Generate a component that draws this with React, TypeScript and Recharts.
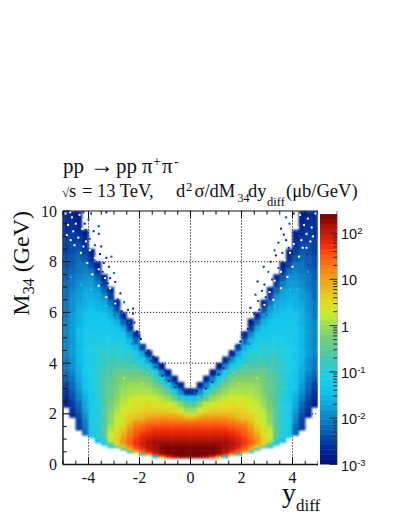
import React from "react";
import { ScatterChart, Scatter, XAxis, YAxis, ReferenceLine } from "recharts";

const _ = null;

// rapidity bin centres
const yDiffBins = [-4.875,-4.625,-4.375,-4.125,-3.875,-3.625,-3.375,-3.125,-2.875,-2.625,-2.375,-2.125,-1.875,-1.625,-1.375,-1.125,-0.875,-0.625,-0.375,-0.125,0.125,0.375,0.625,0.875,1.125,1.375,1.625,1.875,2.125,2.375,2.625,2.875,3.125,3.375,3.625,3.875,4.125,4.375,4.625,4.875];
// mass bin edges (GeV)
const massEdges = [0.25,0.35,0.45,0.55,0.65,0.75,0.85,0.95,1.05,1.15,1.25,1.35,1.45,1.55,1.65,1.75,1.85,1.95,2.05,2.25,2.5,2.75,3,3.25,3.5,3.75,4,4.25,4.5,4.75,5,5.25,5.5,5.75,6,6.25,6.5,6.75,7,7.25,7.5,7.75,8,8.25,8.5,8.75,9,9.25,9.5,9.75,10];
// log10(cross section) x 10, one row per mass bin, bottom to top
const logSigmaRows = [
[_,_,_,_,_,_,_,_,_,_,_,_,_,_,-12,8,17,21,23,23,23,23,21,17,8,-11,_,_,_,_,_,_,_,_,_,_,_,_,_,_],
[_,_,_,_,_,_,_,_,_,_,_,_,-10,9,17,21,23,24,24,24,24,24,24,23,21,17,9,-9,_,_,_,_,_,_,_,_,_,_,_,_],
[_,_,_,_,_,_,_,_,_,_,-8,8,14,18,21,23,24,24,24,24,24,24,24,24,23,21,18,14,8,-8,_,_,_,_,_,_,_,_,_,_],
[_,_,_,_,_,_,_,_,_,-6,9,14,17,20,22,23,24,24,24,24,24,24,24,24,23,22,20,17,14,9,-6,_,_,_,_,_,_,_,_,_],
[_,_,_,_,_,_,_,-12,-5,6,11,16,19,21,22,23,24,24,24,24,24,24,24,24,23,22,21,19,16,11,6,-5,-12,_,_,_,_,_,_,_],
[_,_,_,_,_,_,-14,-6,5,10,14,17,20,21,22,23,23,23,23,23,23,23,23,23,23,22,21,20,17,14,10,5,-6,-14,_,_,_,_,_,_],
[_,_,_,_,_,-15,-9,1,6,11,15,17,19,21,22,22,22,22,22,22,22,22,22,22,22,22,21,19,17,15,11,6,1,-9,-15,_,_,_,_,_],
[_,_,_,_,_,-13,-8,2,6,11,14,17,19,20,21,21,21,21,21,21,21,21,21,21,21,21,20,19,17,14,11,6,2,-8,-13,_,_,_,_,_],
[_,_,_,_,-14,-11,-6,3,5,10,13,16,18,19,20,20,20,20,20,20,20,20,20,20,20,20,19,18,16,13,10,5,3,-6,-11,-14,_,_,_,_],
[_,_,_,-23,-12,-10,-5,3,5,9,13,15,17,18,19,19,19,19,19,19,19,19,19,19,19,19,18,17,15,13,9,5,3,-5,-10,-12,-23,_,_,_],
[_,_,_,-22,-12,-10,-5,2,5,8,12,15,16,17,18,18,18,18,18,18,18,18,18,18,18,18,17,16,15,12,8,5,2,-5,-10,-12,-22,_,_,_],
[_,_,-26,-22,-12,-10,-5,1,4,7,11,14,15,16,17,17,17,17,17,17,17,17,17,17,17,17,16,15,14,11,7,4,2,-5,-10,-12,-22,-26,_,_],
[_,_,-25,-21,-12,-10,-5,1,4,6,10,13,14,15,16,16,16,16,16,16,16,16,16,16,16,16,15,14,13,10,6,4,1,-5,-10,-12,-21,-25,_,_],
[_,_,-25,-21,-12,-10,-6,0,3,5,9,12,13,14,14,15,15,15,15,15,15,15,15,15,15,14,14,13,12,9,5,3,0,-6,-10,-12,-21,-25,_,_],
[_,_,-25,-20,-12,-9,-6,-1,2,4,7,10,11,12,13,13,13,13,13,13,13,13,13,13,13,13,12,11,10,7,4,2,-1,-6,-9,-12,-20,-25,_,_],
[_,_,-25,-20,-12,-10,-6,-1,2,4,6,8,9,11,12,12,12,12,11,10,10,11,12,12,12,12,11,9,8,6,4,2,-1,-6,-10,-12,-20,-25,_,_],
[_,-27,-24,-19,-12,-10,-6,-1,2,4,6,7,8,9,10,10,10,10,9,7,7,9,10,10,10,10,9,8,7,6,4,2,-1,-6,-10,-12,-19,-24,-27,_],
[_,-27,-24,-19,-12,-10,-6,-1,2,4,5,6,7,8,8,8,8,8,6,3,3,6,8,8,8,8,8,7,6,5,4,2,-1,-6,-10,-12,-19,-24,-27,_],
[_,-26,-23,-18,-12,-10,-6,-2,1,3,4,5,6,6,6,6,6,5,3,0,0,3,5,6,6,6,6,6,5,4,3,1,-2,-6,-10,-12,-18,-23,-26,_],
[-28,-25,-22,-17,-12,-10,-6,-3,0,2,3,4,4,5,4,4,3,2,-1,-5,-5,-1,2,3,4,4,5,4,4,3,2,0,-3,-6,-10,-12,-17,-22,-25,-28],
[-27,-24,-20,-16,-12,-10,-6,-4,-1,1,2,3,3,3,2,1,0,-4,-8,-14,-14,-8,-4,0,1,2,3,3,3,2,1,-1,-4,-6,-10,-12,-16,-20,-24,-27],
[-26,-23,-19,-15,-12,-9,-6,-4,-2,0,1,1,1,1,0,-2,-5,-11,-19,-27,-27,-19,-11,-5,-2,0,1,1,1,1,0,-2,-4,-6,-9,-12,-15,-19,-23,-26],
[-25,-22,-18,-14,-12,-9,-6,-4,-3,-1,0,0,0,-1,-3,-6,-11,-20,-27,_,_,-27,-20,-11,-6,-3,-1,0,0,0,-1,-3,-4,-6,-9,-12,-14,-18,-22,-25],
[-23,-21,-17,-14,-11,-9,-6,-5,-3,-2,-2,-2,-2,-3,-6,-11,-20,-27,_,_,_,_,-27,-20,-11,-6,-3,-2,-2,-2,-2,-3,-5,-6,-9,-11,-14,-17,-21,-23],
[-22,-20,-16,-13,-11,-9,-7,-6,-4,-4,-4,-4,-5,-7,-11,-19,-28,_,_,_,_,_,_,-28,-19,-11,-7,-5,-4,-4,-4,-4,-6,-7,-9,-11,-13,-16,-20,-22],
[-21,-19,-16,-13,-11,-9,-8,-7,-6,-6,-6,-7,-9,-12,-19,-28,_,_,_,_,_,_,_,_,-28,-19,-12,-9,-7,-6,-6,-6,-7,-8,-9,-11,-13,-16,-19,-21],
[-21,-19,-15,-13,-11,-10,-8,-8,-7,-8,-8,-10,-12,-18,-27,_,_,_,_,_,_,_,_,_,_,-27,-18,-12,-10,-8,-8,-7,-8,-8,-10,-11,-13,-15,-19,-21],
[-20,-18,-15,-13,-11,-10,-9,-9,-9,-9,-10,-12,-17,-26,_,_,_,_,_,_,_,_,_,_,_,_,-26,-17,-12,-10,-9,-9,-9,-9,-10,-11,-13,-15,-18,-20],
[-20,-18,-15,-13,-11,-10,-10,-10,-10,-11,-12,-16,-25,_,_,_,_,_,_,_,_,_,_,_,_,_,_,-25,-16,-12,-11,-10,-10,-10,-10,-11,-13,-15,-18,-20],
[-20,-18,-15,-13,-12,-11,-11,-11,-11,-12,-15,-22,_,_,_,_,_,_,_,_,_,_,_,_,_,_,_,_,-22,-15,-12,-11,-11,-11,-11,-12,-13,-15,-18,-20],
[-20,-18,-15,-13,-12,-12,-12,-12,-13,-14,-19,-27,_,_,_,_,_,_,_,_,_,_,_,_,_,_,_,_,-27,-19,-14,-13,-12,-12,-12,-12,-13,-15,-18,-20],
[-20,-18,-15,-13,-13,-12,-13,-13,-14,-17,-25,_,_,_,_,_,_,_,_,_,_,_,_,_,_,_,_,_,_,-25,-17,-14,-13,-13,-12,-13,-13,-15,-18,-20],
[-20,-18,-16,-14,-13,-13,-13,-14,-16,-22,-28,_,_,_,_,_,_,_,_,_,_,_,_,_,_,_,_,_,_,-28,-22,-16,-14,-13,-13,-13,-14,-16,-18,-20],
[-21,-18,-16,-14,-14,-14,-14,-16,-19,-27,_,_,_,_,_,_,_,_,_,_,_,_,_,_,_,_,_,_,_,_,-27,-19,-16,-14,-14,-14,-14,-16,-18,-21],
[-21,-19,-16,-15,-14,-15,-16,-18,-24,_,_,_,_,_,_,_,_,_,_,_,_,_,_,_,_,_,_,_,_,_,_,-24,-18,-16,-15,-14,-15,-16,-19,-21],
[-21,-19,-17,-16,-15,-16,-17,-21,-27,_,_,_,_,_,_,_,_,_,_,_,_,_,_,_,_,_,_,_,_,_,_,-27,-21,-17,-16,-15,-16,-17,-19,-21],
[-22,-19,-18,-16,-16,-17,-19,-25,_,_,_,_,_,_,_,_,_,_,_,_,_,_,_,_,_,_,_,_,_,_,_,_,-25,-19,-17,-16,-16,-18,-19,-22],
[-22,-20,-18,-17,-17,-18,-22,-27,_,_,_,_,_,_,_,_,_,_,_,_,_,_,_,_,_,_,_,_,_,_,_,_,-27,-22,-18,-17,-17,-18,-20,-22],
[-22,-21,-19,-18,-18,-20,-25,_,_,_,_,_,_,_,_,_,_,_,_,_,_,_,_,_,_,_,_,_,_,_,_,_,_,-25,-20,-18,-18,-19,-21,-22],
[-23,-21,-20,-19,-19,-23,-27,_,_,_,_,_,_,_,_,_,_,_,_,_,_,_,_,_,_,_,_,_,_,_,_,_,_,-27,-23,-19,-19,-20,-21,-23],
[-23,-22,-21,-20,-21,-26,_,_,_,_,_,_,_,_,_,_,_,_,_,_,_,_,_,_,_,_,_,_,_,_,_,_,_,_,-26,-21,-20,-21,-22,-23],
[-24,-23,-21,-21,-24,-28,_,_,_,_,_,_,_,_,_,_,_,_,_,_,_,_,_,_,_,_,_,_,_,_,_,_,_,_,-28,-24,-21,-21,-23,-24],
[-24,-23,-22,-23,-26,_,_,_,_,_,_,_,_,_,_,_,_,_,_,_,_,_,_,_,_,_,_,_,_,_,_,_,_,_,_,-26,-23,-22,-23,-24],
[-25,-24,-23,-25,-28,_,_,_,_,_,_,_,_,_,_,_,_,_,_,_,_,_,_,_,_,_,_,_,_,_,_,_,_,_,_,-28,-25,-23,-24,-25],
[-25,-24,-24,-26,_,_,_,_,_,_,_,_,_,_,_,_,_,_,_,_,_,_,_,_,_,_,_,_,_,_,_,_,_,_,_,_,-26,-24,-24,-25],
[-25,-25,-25,-27,_,_,_,_,_,_,_,_,_,_,_,_,_,_,_,_,_,_,_,_,_,_,_,_,_,_,_,_,_,_,_,_,-27,-25,-25,-25],
[-26,-25,-26,-28,_,_,_,_,_,_,_,_,_,_,_,_,_,_,_,_,_,_,_,_,_,_,_,_,_,_,_,_,_,_,_,_,-28,-26,-25,-26],
[-26,-26,-27,_,_,_,_,_,_,_,_,_,_,_,_,_,_,_,_,_,_,_,_,_,_,_,_,_,_,_,_,_,_,_,_,_,_,-27,-26,-26],
[-26,-27,-28,_,_,_,_,_,_,_,_,_,_,_,_,_,_,_,_,_,_,_,_,_,_,_,_,_,_,_,_,_,_,_,_,_,_,-28,-27,-26],
[-27,-27,-28,_,_,_,_,_,_,_,_,_,_,_,_,_,_,_,_,_,_,_,_,_,_,_,_,_,_,_,_,_,_,_,_,_,_,-28,-27,-27],
];

// isolated low-statistics bins beyond the dense edge: [y_diff, M34]
const fringeBins = [[-3.3,9.95],[-3.9,9.9],[-4,9.66],[-4.15,9.5],[-3.6,9.4],[-3.6,9.1],[-3.95,8.9],[-3.8,9.2],[-3.5,8.6],[-3.75,8.65],[-3.1,8.2],[-3.3,8.15],[-3.55,8.3],[-3.4,7.95],[-3.2,7.8],[-3.0,7.55],[-3.15,7.35],[-2.95,7.2],[-2.75,6.75],[-2.85,6.5],[-2.6,6.4],[-2.25,6.15],[-2.45,6.1],[-2.25,5.95],[-2.4,5.6],[-2.3,5.4],[-2.1,5.25],[-2.0,5.05],[-1.85,4.7],[-1.65,4.5],[-1.45,4.25],[-1.25,3.95],[-1.0,3.7],[-0.75,3.4],[-0.55,3.2],[-0.3,2.95],[3.66,9.07],[3.45,8.75],[3.88,9.5],[4.05,9.9],[3.75,9.75],[3.55,9.3],[3.3,8.45],[3.14,8.0],[3.35,8.25],[2.87,7.8],[3.05,7.6],[2.63,7.22],[2.9,7.1],[2.8,6.85],[2.55,6.7],[2.65,6.45],[2.35,6.18],[2.5,5.95],[2.35,5.65],[2.25,5.35],[2.05,5.1],[1.95,4.85],[1.8,4.65],[1.6,4.45],[1.4,4.2],[1.2,3.9],[0.95,3.6],[0.7,3.35],[0.5,3.1],[0.25,2.9],[-4.2,9.95],[-4.1,9.25],[4.3,9.6],[4.15,9.2],[3.85,8.55],[3.6,8.35],[-3.45,7.6],[-3.25,7.15],[-3.05,6.6],[-2.7,6.05],[-2.55,5.75],[-2.2,5.6],[-2.15,5.0],[-1.95,4.95],[-1.75,4.4],[-1.55,4.1],[-1.35,3.85],[-1.1,3.5],[-0.85,3.3],[-0.6,3.05],[-0.15,2.85],[0.15,2.85],[0.6,3.0],[0.85,3.25],[1.1,3.55],[1.3,3.8],[1.55,4.15],[1.7,4.35],[1.9,4.7],[2.15,5.15],[2.45,5.7],[2.7,6.1],[2.95,6.6],[3.2,7.3],[3.45,7.75],[3.75,8.85]];
const fringeLevels = [-28,-26,-24,-28,-25,-27,-22,-28,-27,-25,-23,-28,-27,-25,-26,-22,-28,-26];

// empty bins inside the sparse upper wings: [y_diff, M34]
const emptyBins = [[-4.9,9.9],[-4.65,9.75],[-4.8,9.45],[-4.5,9.5],[-4.35,9.85],[-4.6,9.2],[-4.25,9.3],[-4.85,9.05],[-4.4,8.95],[-4.1,8.8],[-4.55,8.65],[-3.95,8.45],[-4.3,8.35],[-3.75,8.15],[-4.05,7.95],[-3.6,7.7],[-3.85,7.5],[-3.35,7.35],[-3.6,7.05],[-3.15,6.95],[-3.3,6.6],[-2.95,6.35],[4.9,9.9],[4.6,9.7],[4.75,9.35],[4.45,9.45],[4.3,9.85],[4.55,9.1],[4.2,9.35],[4.8,9.0],[4.35,8.85],[4.05,8.7],[4.55,8.55],[3.9,8.35],[4.25,8.2],[3.7,8.05],[4.0,7.8],[3.55,7.6],[3.8,7.4],[3.3,7.25],[3.55,6.95],[3.1,6.8],[3.25,6.5],[2.9,6.3],[-4.72,9.95],[-4.2,9.65],[-4.7,8.85],[4.15,9.75],[4.7,8.8],[-4.2,8.6],[4.4,8.55]];

// single noisy bins on the slopes: [y_diff, M34, log10 x 10]
const grainBins = [[-2.2,3.9,-2],[-2.6,3.4,3],[-1.9,3.2,4],[-2.9,2.95,-4],[-2.4,4.3,-5],[-2.9,4.6,-6],[-3.2,3.9,-3],[-1.7,3.6,-1],[-2.0,4.2,-14],[-2.7,5.0,-8],[-3.2,5.4,-9],[-3.6,6.0,-11],[-3.0,5.9,-21],[-3.3,6.25,-11],[-3.9,6.9,-13],[-2.3,4.75,-20],[-1.5,3.35,-3],[-1.2,3.15,-2],[2.2,3.9,-2],[2.6,3.4,2],[1.9,3.2,4],[2.9,2.95,-4],[2.4,4.3,-5],[2.9,4.6,-7],[3.2,3.9,-3],[1.7,3.6,-1],[2.0,4.2,-14],[2.7,5.0,-8],[3.2,5.4,-9],[3.6,6.0,-11],[3.0,5.9,-21],[3.3,6.25,-11],[3.9,6.9,-13],[2.3,4.75,-20],[1.5,3.35,-3],[1.2,3.15,-2],[-4.7,7.4,-16],[-4.3,7.1,-14],[4.6,7.6,-16],[4.2,6.9,-14],[0.45,2.65,-16],[-0.45,2.6,-15]];

// colour bar level centres, log10 of the cross section
const paletteLevels = [-2.95,-2.84,-2.73,-2.62,-2.51,-2.41,-2.30,-2.19,-2.08,-1.97,-1.87,-1.76,-1.65,-1.54,-1.43,-1.33,-1.22,-1.11,-1.00,-0.89,-0.79,-0.68,-0.57,-0.46,-0.35,-0.25,-0.14,-0.03,0.08,0.19,0.29,0.40,0.51,0.62,0.73,0.83,0.94,1.05,1.16,1.27,1.37,1.48,1.59,1.70,1.81,1.91,2.02,2.13,2.24,2.35];
const paletteExponents = [-3,-2.6,-2.3,-2,-1.7,-1.4,-1.1,-0.8,-0.5,-0.2,0,0.25,0.5,0.75,1,1.25,1.5,1.75,2,2.2,2.4];
const paletteColours = ["#000a80","#002f98","#0a5ab0","#0b84c8","#0da8dc","#10c4ee","#1ccde6","#38c8c0","#5cc898","#80d070","#98dc58","#c8ee30","#e4d820","#e8c020","#eea018","#f88010","#ff5810","#f02a08","#c81808","#a00c04","#780000"];

const xMajor = [-4, -2, 0, 2, 4];
const yMajor = [0, 2, 4, 6, 8, 10];
const xTicks = [-5,-4.5,-4,-3.5,-3,-2.5,-2,-1.5,-1,-0.5,0,0.5,1,1.5,2,2.5,3,3.5,4,4.5,5];
const yTicks = [0,0.5,1,1.5,2,2.5,3,3.5,4,4.5,5,5.5,6,6.5,7,7.5,8,8.5,9,9.5,10];
const xGrid = [-4, -2, 2, 4, 0];
const yGrid = [2, 4, 6, 8];
const barMajor = [0.001, 0.01, 0.1, 1, 10, 100];
const barMinor = [0.002,0.003,0.004,0.005,0.006,0.007,0.008,0.009,0.02,0.03,0.04,0.05,0.06,0.07,0.08,0.09,0.2,0.3,0.4,0.5,0.6,0.7,0.8,0.9,2,3,4,5,6,7,8,9,20,30,40,50,60,70,80,90,200];

const W = 399, H = 516;
const PLOT = { left: 63, top: 211, right: 318, bottom: 464.5 };
const PX_PER_Y = (PLOT.right - PLOT.left) / 10;
const PX_PER_M = (PLOT.bottom - PLOT.top) / 10;
const SERIF = "'Liberation Serif', serif";
const SANS = "'Liberation Sans', sans-serif";
const INK = "#111";

function hex(c: string) {
  return [1, 3, 5].map((i) => parseInt(c.slice(i, i + 2), 16));
}
function colourOf(e: number) {
  const s = paletteExponents;
  if (e <= s[0]) return paletteColours[0];
  for (let i = 1; i < s.length; i++) {
    if (e <= s[i]) {
      const t = (e - s[i - 1]) / (s[i] - s[i - 1]);
      const a = hex(paletteColours[i - 1]), b = hex(paletteColours[i]);
      return `rgb(${a.map((v, k) => Math.round(v + (b[k] - v) * t)).join(",")})`;
    }
  }
  return paletteColours[paletteColours.length - 1];
}

const cells: any[] = [];
logSigmaRows.forEach((row, r) => {
  row.forEach((v, c) => {
    if (v === null) return;
    cells.push({ x: yDiffBins[c], y: (massEdges[r] + massEdges[r + 1]) / 2, h: massEdges[r + 1] - massEdges[r], fill: colourOf(v / 10) });
  });
});
const fringe = fringeBins.map((b, i) => ({ x: b[0], y: b[1], fill: colourOf(fringeLevels[i % fringeLevels.length] / 10) }));
const holes = emptyBins.map((b) => ({ x: b[0], y: b[1], fill: "#fff" }));
const grain = grainBins.map((b) => ({ x: b[0], y: b[1], fill: colourOf(b[2] / 10) }));
const barCells = paletteLevels.map((e) => ({ x: 0.5, y: Math.pow(10, e), fill: colourOf(e) }));

const CellShape = (p: any) => {
  const w = PX_PER_Y * 0.25 + 0.4;
  const h = p.payload.h * PX_PER_M + 0.4;
  return <rect x={p.cx - w / 2} y={p.cy - h / 2} width={w} height={h} fill={p.payload.fill} />;
};
const DotShape = (p: any) => <rect x={p.cx - 1} y={p.cy - 1} width={2} height={2} fill={p.payload.fill} />;
const BarShape = (p: any) => <rect x={p.cx - 8.5} y={p.cy - 2.8} width={17} height={5.6} fill={p.payload.fill} />;

const BottomTick = (p: any) => {
  const v = p.payload.value;
  const major = xMajor.includes(v);
  return (
    <g>
      <line x1={p.x} x2={p.x} y1={p.y} y2={p.y - (major ? 7.5 : 3.8)} stroke={INK} strokeWidth={1} />
      {major && <text x={p.x} y={483} textAnchor="middle" fontFamily={SERIF} fontSize={16} fill={INK}>{v}</text>}
    </g>
  );
};
const TopTick = (p: any) => {
  const major = xMajor.includes(p.payload.value);
  return <line x1={p.x} x2={p.x} y1={p.y} y2={p.y + (major ? 7.5 : 3.8)} stroke={INK} strokeWidth={1} />;
};
const LeftTick = (p: any) => {
  const v = p.payload.value;
  const major = yMajor.includes(v);
  return (
    <g>
      <line x1={p.x} x2={p.x + (major ? 7.5 : 3.8)} y1={p.y} y2={p.y} stroke={INK} strokeWidth={1} />
      {major && <text x={57} y={p.y + 5.5} textAnchor="end" fontFamily={SERIF} fontSize={16} fill={INK}>{v}</text>}
    </g>
  );
};
const RightTick = (p: any) => {
  const major = yMajor.includes(p.payload.value);
  return <line x1={p.x} x2={p.x - (major ? 7.5 : 3.8)} y1={p.y} y2={p.y} stroke={INK} strokeWidth={1} />;
};
const barExp: Record<number, string> = { 0.001: "-3", 0.01: "-2", 0.1: "-1", 100: "2" };
const BarTick = (p: any) => {
  const v = p.payload.value;
  const major = barMajor.includes(v);
  const label = v === 1 ? "1" : "10";
  return (
    <g>
      <line x1={p.x} x2={p.x - (major ? 7.5 : 3.8)} y1={p.y} y2={p.y} stroke="#333" strokeWidth={1} />
      {major && (
        <text x={p.x + 4} y={p.y + 6} fontFamily={SANS} fontSize={14.5} fill={INK}>
          {label}
          {barExp[v] && <tspan dy={-5} fontSize={9.5}>{barExp[v]}</tspan>}
        </text>
      )}
    </g>
  );
};

export default function App() {
  return (
    <div style={{ position: "absolute", left: 0, top: 0, width: W, height: H, background: "#fff" }}>
      <style>{`.heat-cells{filter:url(#heatBlur)}`}</style>
      <svg width={0} height={0} style={{ position: "absolute" }}>
        <defs>
          <filter id="heatBlur" filterUnits="userSpaceOnUse" x={PLOT.left} y={PLOT.top} width={PLOT.right - PLOT.left} height={PLOT.bottom - PLOT.top} colorInterpolationFilters="sRGB">
            <feGaussianBlur stdDeviation={1.2} />
          </filter>
        </defs>
      </svg>
      <div style={{ position: "absolute", left: 0, top: 0 }}>
        <ScatterChart width={W - 81} height={H} margin={{ left: 0, right: 0, top: 0, bottom: 0 }}>
          <XAxis xAxisId={0} dataKey="x" type="number" domain={[-5, 5]} allowDataOverflow ticks={xTicks} interval={0} height={H - PLOT.bottom} tickSize={0} tickMargin={0} tick={BottomTick} tickLine={false} axisLine={{ stroke: "#111", strokeWidth: 1.4 }} />
          <XAxis xAxisId="top" orientation="top" dataKey="x" type="number" domain={[-5, 5]} allowDataOverflow ticks={xTicks} interval={0} height={PLOT.top} tickSize={0} tickMargin={0} tick={TopTick} tickLine={false} axisLine={{ stroke: "#111", strokeWidth: 1 }} />
          <YAxis yAxisId={0} dataKey="y" type="number" domain={[0, 10]} allowDataOverflow ticks={yTicks} interval={0} width={PLOT.left} tickSize={0} tickMargin={0} tick={LeftTick} tickLine={false} axisLine={{ stroke: "#111", strokeWidth: 1.4 }} />
          <Scatter className="heat-cells" data={cells} shape={CellShape} isAnimationActive={false} xAxisId={0} yAxisId={0} />
          <Scatter data={grain} shape={DotShape} isAnimationActive={false} xAxisId={0} yAxisId={0} />
          <Scatter data={holes} shape={DotShape} isAnimationActive={false} xAxisId={0} yAxisId={0} />
          <Scatter data={fringe} shape={DotShape} isAnimationActive={false} xAxisId={0} yAxisId={0} />
          {xGrid.map((v) => (
            <ReferenceLine key={"x" + v} x={v} xAxisId={0} yAxisId={0} stroke="#222" strokeDasharray="1.2 1.8" strokeWidth={1} />
          ))}
          {yGrid.map((v) => (
            <ReferenceLine key={"y" + v} y={v} xAxisId={0} yAxisId={0} stroke="#222" strokeDasharray="1.2 1.8" strokeWidth={1} />
          ))}
          <YAxis yAxisId="right" orientation="right" type="number" domain={[0, 10]} allowDataOverflow ticks={yTicks} interval={0} width={0} tickSize={0} tickMargin={0} tick={RightTick} tickLine={false} axisLine={{ stroke: "#555", strokeWidth: 1 }} />
        </ScatterChart>
      </div>
      <div style={{ position: "absolute", left: 320, top: 0 }}>
        <ScatterChart width={79} height={H} margin={{ left: 0, right: 0, top: PLOT.top, bottom: H - PLOT.bottom }}>
          <XAxis dataKey="x" type="number" domain={[0, 1]} hide />
          <YAxis dataKey="y" orientation="right" scale="log" type="number" domain={[0.001, 300]} allowDataOverflow ticks={[...barMajor, ...barMinor]} interval={0} width={62} tickSize={0} tickMargin={0} tick={BarTick} tickLine={false} axisLine={{ stroke: "#777", strokeWidth: 1 }} />
          <Scatter data={barCells} shape={BarShape} isAnimationActive={false} />
        </ScatterChart>
      </div>
      <svg width={W} height={H} style={{ position: "absolute", left: 0, top: 0, pointerEvents: "none" }}>
        <text y={173} fontFamily={SERIF} fontSize={21} fill={INK}>
          <tspan x={63}>pp</tspan><tspan x={90} fontSize={24}>→</tspan><tspan x={116}>pp</tspan><tspan x={142}>π</tspan><tspan x={153} dy={-7} fontSize={14}>+</tspan><tspan x={162} dy={7}>π</tspan><tspan x={174} dy={-7} fontSize={14}>-</tspan>
        </text>
        <text y={197} fontFamily={SERIF} fontSize={18.5} fill={INK}>
          <tspan x={62} fontSize={13}>√</tspan><tspan x={69}>s</tspan><tspan x={82}>=</tspan><tspan x={97}>13 TeV,</tspan><tspan x={176}>d</tspan><tspan x={186} dy={-6} fontSize={12.5}>2</tspan><tspan x={194.5} dy={6}>σ/dM</tspan><tspan x={237.5} dy={5} fontSize={12}>34</tspan><tspan x={248} dy={-5}>dy</tspan><tspan x={267} dy={9} fontSize={12.5}>diff</tspan><tspan x={286} dy={-9}>(μb/GeV)</tspan>
        </text>
        <text transform="translate(29,211) rotate(-90)" textAnchor="end" fontFamily={SERIF} fontSize={24} fill={INK}>
          M<tspan dy={5} fontSize={16}>34</tspan><tspan dy={-5}> (GeV)</tspan>
        </text>
        <text x={282} y={502} fontFamily={SERIF} fontSize={28} fill={INK}>
          y<tspan dy={9} fontSize={17}>diff</tspan>
        </text>
      </svg>
    </div>
  );
}
